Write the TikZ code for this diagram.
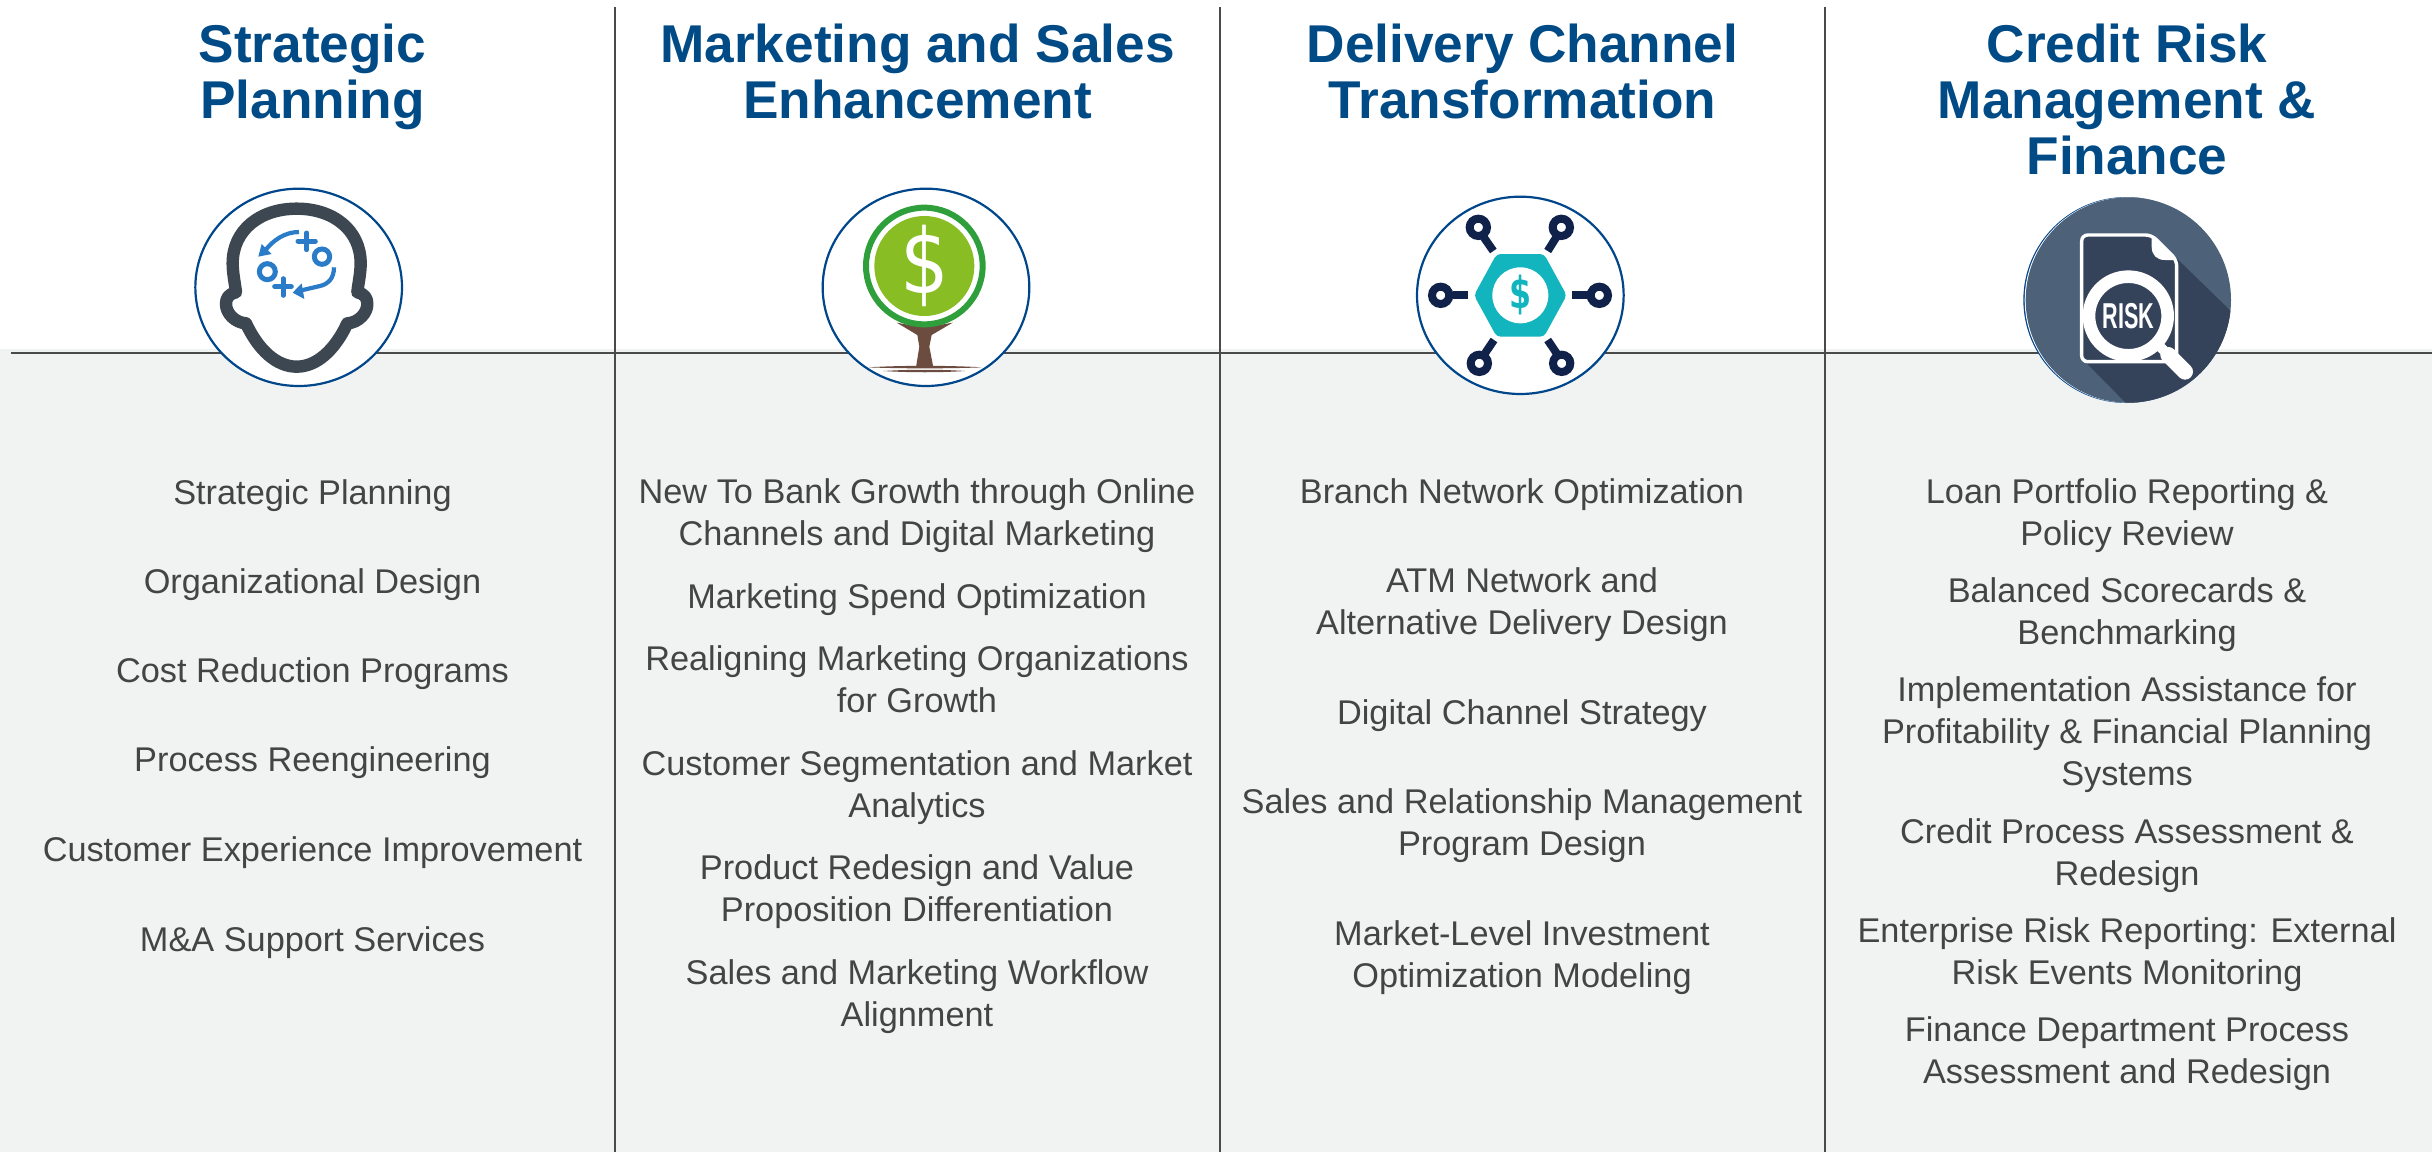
\documentclass[tikz,border=0pt]{standalone}
\usepackage{fontspec}
\setmainfont{Liberation Sans}
\newfontfamily\dollarfont{DejaVu Sans}
\newfontfamily\dollarbold{DejaVu Sans}[BoldFont={DejaVu Sans Bold}]
\definecolor{titleblue}{HTML}{004A85}
\definecolor{ringblue}{HTML}{00468B}
\definecolor{bodytext}{HTML}{444444}
\definecolor{panelgrey}{HTML}{F1F3F3}
\definecolor{rule}{HTML}{4A4A4A}
\definecolor{headgrey}{HTML}{3D4752}
\definecolor{iconblue}{HTML}{2A7BC8}
\definecolor{leafdark}{HTML}{2E9F3A}
\definecolor{leaflight}{HTML}{88BD24}
\definecolor{trunk}{HTML}{6B4C3F}
\definecolor{navy}{HTML}{10224A}
\definecolor{teal}{HTML}{12B5BE}
\definecolor{slate}{HTML}{4D6178}
\definecolor{slatedark}{HTML}{35435A}
\tikzset{
  titletext/.style={font=\fontsize{26.6}{28}\selectfont\bfseries,text=titleblue,align=center,inner sep=0pt},
  bodyitem/.style={font=\fontsize{17.15}{20.95}\selectfont,text=bodytext,align=center,inner sep=0pt},
  divider/.style={draw=rule,line width=1.3pt},
  ring/.style={draw=ringblue,line width=1.1pt,fill=white},
  plusarm/.style={draw=iconblue,line width=2.5pt,line cap=round},
  spoke/.style={draw=navy,line width=4pt},
  knob/.style={draw=navy,line width=4pt,fill=white},
}
\newcommand{\itm}[4]{\node[bodyitem] (#1) at (#2,#3+3) {\strut #4\strut};}
\begin{document}
\begin{tikzpicture}[x=.5pt,y=-.5pt]
\useasboundingbox (0,0) rectangle (2432,1152);
\fill[white] (0,0) rectangle (2432,1152);
\fill[panelgrey] (0,349) rectangle (2432,1152);
\coordinate (hl) at (11,353); \coordinate (hr) at (2432,353);
\coordinate (v1t) at (615,7); \coordinate (v1b) at (615,1152);
\coordinate (v2t) at (1220,7); \coordinate (v2b) at (1220,1152);
\coordinate (v3t) at (1825,7); \coordinate (v3b) at (1825,1152);
\draw[divider] (hl) -- (hr);
\draw[divider] (v1t) -- (v1b);
\draw[divider] (v2t) -- (v2b);
\draw[divider] (v3t) -- (v3b);

% titles
\node[titletext] (t1) at (312.5,79) {\strut Strategic\\Planning\strut};
\node[titletext] (t2) at (917.5,79) {\strut Marketing and Sales\\Enhancement\strut};
\node[titletext] (t3) at (1522.5,79) {\strut Delivery Channel\\Transformation\strut};
\node[titletext] (t4) at (2127,107) {\strut Credit Risk\\Management \&\\Finance\strut};

% column 1
\itm{a1}{312.5}{493}{Strategic Planning}
\itm{a2}{312.5}{582}{Organizational Design}
\itm{a3}{312.5}{671}{Cost Reduction Programs}
\itm{a4}{312.5}{760}{Process Reengineering}
\itm{a5}{312.5}{850}{Customer Experience Improvement}
\itm{a6}{312.5}{940}{M\&A Support Services}
% column 2
\itm{b1}{917}{513}{New To Bank Growth through Online\\Channels and Digital Marketing}
\itm{b2}{917}{597}{Marketing Spend Optimization}
\itm{b3}{917}{680}{Realigning Marketing Organizations\\for Growth}
\itm{b4}{917}{785}{Customer Segmentation and Market\\Analytics}
\itm{b5}{917}{889}{Product Redesign and Value\\Proposition Differentiation}
\itm{b6}{917}{994}{Sales and Marketing Workflow\\Alignment}
% column 3
\itm{c1}{1522}{492}{Branch Network Optimization}
\itm{c2}{1522}{602}{ATM Network and\\Alternative Delivery Design}
\itm{c3}{1522}{713}{Digital Channel Strategy}
\itm{c4}{1522}{823}{Sales and Relationship Management\\Program Design}
\itm{c5}{1522}{955}{Market-Level Investment\\Optimization Modeling}
% column 4
\itm{d1}{2127}{513}{Loan Portfolio Reporting \&\\Policy Review}
\itm{d2}{2127}{612}{Balanced Scorecards \&\\Benchmarking}
\itm{d3}{2127}{732}{Implementation Assistance for\\Profitability \& Financial Planning\\Systems}
\itm{d4}{2127}{853}{Credit Process Assessment \&\\Redesign}
\itm{d5}{2127}{952}{Enterprise Risk Reporting: External\\Risk Events Monitoring}
\itm{d6}{2127}{1051}{Finance Department Process\\Assessment and Redesign}

% icon 1: head
\begin{scope}[shift={(170,170)},scale=1/3]
\draw[ring] (386,352) ellipse (310 and 296);
\draw[draw=headgrey,line width=6.2pt,line join=round]
 (380,116) .. controls (270,116) and (188,180) .. (188,280)
 .. controls (188,310) and (195,340) .. (198,367)
 .. controls (175,372) and (168,385) .. (168,402)
 .. controls (168,430) and (195,458) .. (228,460)
 .. controls (265,540) and (320,590) .. (380,590)
 .. controls (440,590) and (495,540) .. (532,460)
 .. controls (565,458) and (592,430) .. (592,402)
 .. controls (592,385) and (585,372) .. (562,367)
 .. controls (565,340) and (572,310) .. (572,280)
 .. controls (572,180) and (490,116) .. (380,116) -- cycle;
\draw[iconblue,line width=2.1pt] (387,186) .. controls (345,186) and (310,210) .. (285,242);
\fill[iconblue] (265,260) -- (275,222) -- (305,252) -- cycle;
\draw[plusarm] (384,213) -- (436,213);
\draw[plusarm] (410,189) -- (410,239);
\draw[iconblue,line width=2.5pt] (456,260) circle (23);
\draw[iconblue,line width=2.5pt] (292,305) circle (24);
\draw[plusarm] (314,350) -- (364,350);
\draw[plusarm] (339,326) -- (339,376);
\draw[iconblue,line width=2.1pt] (492,292) .. controls (492,325) and (475,342) .. (450,348) -- (390,362);
\fill[iconblue] (368,368) -- (395,340) -- (403,387) -- cycle;
\end{scope}

% icon 2: tree
\begin{scope}[shift={(800,170)},scale=1/3]
\draw[ring] (378,352) ellipse (310 and 296);
\fill[trunk] (205,592) .. controls (300,586) and (450,586) .. (545,592) .. controls (450,596) and (300,596) .. (205,592) -- cycle;
\fill[trunk] (250,603) .. controls (330,598) and (420,598) .. (495,603) .. controls (420,608) and (330,608) .. (250,603) -- cycle;
\fill[trunk] (290,458) -- (345,468) -- (400,468) -- (458,458) -- (395,495) -- (388,530) -- (400,592) -- (348,592) -- (358,530) -- (352,495) -- cycle;
\draw[leafdark,line width=3pt,fill=white] (373,288) circle (175);
\fill[leaflight] (373,288) circle (150);
\node[font=\fontsize{45}{45}\dollarfont,text=white,inner sep=0pt,xscale=.85] (dollar) at (375,288) {\$};
\end{scope}

% icon 3: network
\begin{scope}[shift={(1400,180)},scale=1/3]
\draw[ring] (361,346) ellipse (310 and 296);
\fill[teal,rounded corners=2pt] (222,346) -- (290,222) -- (432,222) -- (500,346) -- (432,470) -- (290,470) -- cycle;
\fill[white] (361,346) circle (84);
\node[font=\fontsize{22}{22}\dollarbold\bfseries,text=teal,inner sep=0pt,xscale=.72] (cdollar) at (361,346) {\$};
\draw[spoke] (160,346) -- (205,346);
\draw[spoke] (517,346) -- (565,346);
\draw[spoke] (250,170) -- (280,213);
\draw[spoke] (470,170) -- (443,213);
\draw[spoke] (255,520) -- (282,480);
\draw[spoke] (470,520) -- (443,480);
\draw[knob] (122,346) circle (26);
\draw[knob] (598,346) circle (26);
\draw[knob] (235,142) circle (26);
\draw[knob] (484,142) circle (26);
\draw[knob] (238,550) circle (26);
\draw[knob] (485,550) circle (26);
\end{scope}

% icon 4: risk
\begin{scope}[shift={(2000,180)},scale=1/3]
\fill[ringblue] (379,360) circle (309);
\fill[white] (382,360) circle (308);
\fill[slate] (385,360) circle (308);
\begin{scope}
\clip (385,360) circle (308);
\fill[slatedark] (530,235) -- (720,420) -- (720,720) -- (430,722) -- (260,550) -- cycle;
\end{scope}
\draw[draw=white,line width=1.7pt,fill=slatedark,rounded corners=3pt] (245,165) -- (455,165) -- (530,240) -- (530,545) -- (245,545) -- cycle;
\fill[white] (455,165) -- (530,240) -- (495,240) .. controls (470,240) and (455,225) .. (455,200) -- cycle;
\draw[white,line width=8pt,line cap=round] (505,525) -- (555,575);
\draw[white,line width=5pt] (470,490) -- (510,530);
\draw[draw=white,line width=6.3pt,fill=slatedark] (385,408) circle (118);
\node[font=\fontsize{18}{18}\selectfont\bfseries,text=white,inner sep=0pt,xscale=.6] (risk) at (385,409) {RISK};
\end{scope}
\end{tikzpicture}
\end{document}
